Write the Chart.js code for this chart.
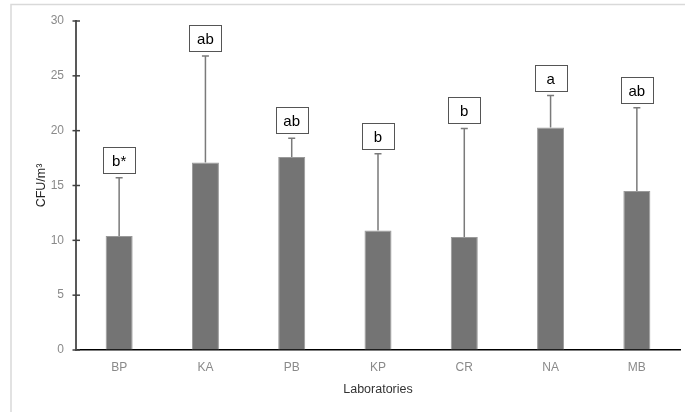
<!DOCTYPE html>
<html>
<head>
<meta charset="utf-8">
<script src="https://cdn.jsdelivr.net/npm/chart.js@4.4.1/dist/chart.umd.min.js"></script>
<style>
  html, body { margin: 0; padding: 0; background: #fff; }
  #wrap { width: 685px; height: 412px; }
</style>
</head>
<body>
<div id="wrap"><canvas id="bar-chart" width="685" height="412"></canvas></div>
<script>
// Mean CFU/m3 per laboratory, with upper SD and letter groups
const labs = ['BP', 'KA', 'PB', 'KP', 'CR', 'NA', 'MB'];
const means = [10.4, 17.1, 17.6, 10.9, 10.3, 20.3, 14.5];
const sds = [5.3, 9.7, 1.7, 7.0, 9.9, 2.9, 7.6];
const letters = ['b*', 'ab', 'ab', 'b', 'b', 'a', 'ab'];
const yTicks = [0, 5, 10, 15, 20, 25, 30];

// frame, error bars, crossing tick marks and letter boxes
const extras = {
    id: 'extras',
    beforeDraw(chart) {
        const ctx = chart.ctx;
        ctx.save();
        ctx.strokeStyle = '#d9d9d9';
        ctx.lineWidth = 1.5;
        ctx.beginPath();
        ctx.moveTo(685, 4.5);
        ctx.lineTo(11, 4.5);
        ctx.lineTo(11, 412);
        ctx.stroke();
        ctx.restore();
    },
    beforeDatasetsDraw(chart) {
        const ctx = chart.ctx;
        const x = chart.scales.x;
        const y = chart.scales.y;
        ctx.save();
        ctx.strokeStyle = '#7a7a7a';
        ctx.lineWidth = 1.5;
        labs.forEach((lab, i) => {
            const cx = x.getPixelForValue(i);
            const top = y.getPixelForValue(means[i] + sds[i]);
            const base = y.getPixelForValue(means[i]);
            ctx.beginPath();
            ctx.moveTo(cx, base);
            ctx.lineTo(cx, top);
            ctx.moveTo(cx - 3.5, top);
            ctx.lineTo(cx + 3.5, top);
            ctx.stroke();
        });
        ctx.restore();
    },
    afterDraw(chart) {
        const ctx = chart.ctx;
        const x = chart.scales.x;
        const y = chart.scales.y;
        ctx.save();
        // tick marks crossing the y axis
        ctx.strokeStyle = '#404040';
        ctx.lineWidth = 1.5;
        yTicks.forEach(v => {
            const py = y.getPixelForValue(v);
            ctx.beginPath();
            ctx.moveTo(x.left - 3.5, py);
            ctx.lineTo(x.left + 4, py);
            ctx.stroke();
        });
        // letter boxes
        ctx.font = '15px "Liberation Sans", Arial, sans-serif';
        ctx.textAlign = 'center';
        ctx.textBaseline = 'middle';
        labs.forEach((lab, i) => {
            const cx = x.getPixelForValue(i);
            const top = y.getPixelForValue(means[i] + sds[i]);
            const w = 32, h = 26;
            const bx = Math.round(cx - w / 2) + 0.5;
            const by = Math.round(top - 5 - h) + 0.5;
            ctx.fillStyle = '#fff';
            ctx.fillRect(bx, by, w, h);
            ctx.strokeStyle = '#555';
            ctx.lineWidth = 1;
            ctx.strokeRect(bx, by, w, h);
            ctx.fillStyle = '#000';
            ctx.fillText(letters[i], cx, by + h / 2 + 1);
        });
        ctx.restore();
    }
};

const chart = new Chart(document.getElementById('bar-chart'), {
    type: 'bar',
    data: {
        labels: labs,
        datasets: [{
            data: means,
            backgroundColor: '#747474',
            borderColor: '#9a9a9a',
            borderWidth: 1,
            categoryPercentage: 1,
            barPercentage: 0.313
        }]
    },
    options: {
        responsive: false,
        animation: false,
        layout: { padding: { top: 21, right: 5, bottom: 0, left: 0 } },
        plugins: {
            legend: { display: false },
            tooltip: { enabled: false }
        },
        scales: {
            x: {
                grid: { display: false },
                border: { display: true, color: '#000', width: 1.5 },
                ticks: {
                    color: '#8a8a8a',
                    padding: 2,
                    font: { family: '"Liberation Sans", Arial, sans-serif', size: 12 }
                },
                title: {
                    display: true,
                    text: 'Laboratories',
                    color: '#333',
                    padding: { top: 0, bottom: 15 },
                    font: { family: '"Liberation Sans", Arial, sans-serif', size: 12.5 }
                },
                afterFit(scale) { scale.height = 62; }
            },
            y: {
                min: 0,
                max: 30,
                grid: { drawOnChartArea: false, drawTicks: false },
                border: { display: true, color: '#595959', width: 2 },
                ticks: {
                    stepSize: 5,
                    color: '#8a8a8a',
                    padding: 12,
                    font: { family: '"Liberation Sans", Arial, sans-serif', size: 12 }
                },
                title: {
                    display: true,
                    text: 'CFU/m³',
                    color: '#222',
                    padding: { top: 34.5, bottom: 0 },
                    font: { family: '"Liberation Sans", Arial, sans-serif', size: 12.5 }
                },
                afterFit(scale) { scale.width = 76; }
            }
        }
    },
    plugins: [extras]
});
</script>
</body>
</html>
